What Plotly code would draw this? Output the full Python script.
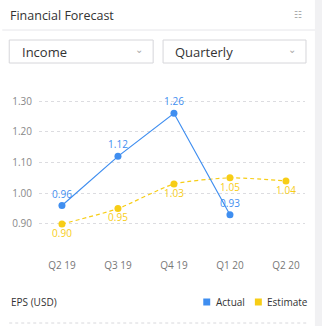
import plotly.graph_objects as go

quarters = ["Q2 19", "Q3 19", "Q4 19", "Q1 20", "Q2 20"]
actual_q = ["Q2 19", "Q3 19", "Q4 19", "Q1 20"]
actual_eps = [0.96, 1.12, 1.26, 0.93]
estimate_eps = [0.90, 0.95, 1.03, 1.05, 1.04]
y_ticks = [0.90, 1.00, 1.10, 1.20, 1.30]

BLUE = "#3f8ef0"
YELLOW = "#f7cd16"
FONT = "Open Sans"

fig = go.Figure()

fig.add_trace(go.Scatter(
    x=quarters, y=estimate_eps, mode="lines+markers+text",
    line=dict(color=YELLOW, width=1.2, dash="4px,3px", shape="spline", smoothing=0.6),
    marker=dict(color=YELLOW, size=7),
    text=[f"{v:.2f}" for v in estimate_eps], textposition="bottom center",
    textfont=dict(color=YELLOW, size=10, family=FONT),
    name="Estimate", hoverinfo="skip", cliponaxis=False,
))
fig.add_trace(go.Scatter(
    x=actual_q, y=actual_eps, mode="lines+markers+text",
    line=dict(color=BLUE, width=1.2),
    marker=dict(color=BLUE, size=7),
    text=[f"{v:.2f}" for v in actual_eps], textposition="top center",
    textfont=dict(color=BLUE, size=10, family=FONT),
    name="Actual", hoverinfo="skip", cliponaxis=False,
))

# convert pixel coordinates to paper coordinates for the chrome
L, R, T, B = 37, 17, 95, 76
PW, PH = 322 - L - R, 326 - T - B


def px(x):
    return (x - L) / PW


def py(y):
    return (326 - B - y) / PH


shapes = [
    # scrollbar strip on the right
    dict(type="rect", xref="paper", yref="paper", x0=px(315), x1=px(330), y0=-1, y1=2,
         fillcolor="#f1f1f3", line=dict(width=0), layer="below"),
    # header separator
    dict(type="line", xref="paper", yref="paper", x0=px(0), x1=px(315),
         y0=py(30), y1=py(30), line=dict(color="#e6e6ea", width=1)),
    # footer dashed rule
    dict(type="line", xref="paper", yref="paper", x0=px(7), x1=px(308),
         y0=py(323), y1=py(323), line=dict(color="#d8d8dc", width=1, dash="dot")),
]

for x0, x1 in [(7, 152), (162, 306)]:
    shapes.append(dict(type="rect", xref="paper", yref="paper",
                       x0=px(x0), x1=px(x1), y0=py(63), y1=py(40),
                       line=dict(color="#d6d6da", width=1), fillcolor="white"))

# legend swatches
for xs, col in [(206, BLUE), (258, YELLOW)]:
    shapes.append(dict(type="rect", xref="paper", yref="paper",
                       x0=px(xs - 3.5), x1=px(xs + 3.5), y0=py(305.5), y1=py(298.5),
                       fillcolor=col, line=dict(width=0)))

annotations = [
    dict(text="Financial Forecast", x=px(6), y=py(15), xanchor="left", yanchor="middle",
         font=dict(size=12.5, color="#333", family=FONT)),
    dict(text="☷", x=px(298), y=py(14), xanchor="center", yanchor="middle",
         font=dict(size=9, color="#999", family=FONT)),
    dict(text="Income", x=px(18), y=py(52), xanchor="left", yanchor="middle",
         font=dict(size=13, color="#333", family=FONT)),
    dict(text="⌄", x=px(138), y=py(49), xanchor="center", yanchor="middle",
         font=dict(size=10, color="#aaa", family=FONT)),
    dict(text="Quarterly", x=px(172), y=py(52), xanchor="left", yanchor="middle",
         font=dict(size=13, color="#333", family=FONT)),
    dict(text="⌄", x=px(292), y=py(49), xanchor="center", yanchor="middle",
         font=dict(size=10, color="#aaa", family=FONT)),
    dict(text="EPS (USD)", x=px(7), y=py(302), xanchor="left", yanchor="middle",
         font=dict(size=10, color="#333", family=FONT)),
    dict(text="Actual", x=px(213), y=py(302), xanchor="left", yanchor="middle",
         font=dict(size=10, color="#333", family=FONT)),
    dict(text="Estimate", x=px(265), y=py(302), xanchor="left", yanchor="middle",
         font=dict(size=10, color="#333", family=FONT)),
]
for a in annotations:
    a.update(xref="paper", yref="paper", showarrow=False)

fig.update_layout(
    width=322, height=326,
    margin=dict(l=L, r=R, t=T, b=B),
    paper_bgcolor="white", plot_bgcolor="white",
    showlegend=False,
    shapes=shapes, annotations=annotations,
    font=dict(family=FONT),
    xaxis=dict(type="category", categoryorder="array", categoryarray=quarters,
               range=[-0.41, 4.34], showgrid=False, showline=False, zeroline=False,
               ticks="", tickfont=dict(size=10, color="#777", family=FONT),
               ticklabelstandoff=8),
    yaxis=dict(range=[0.8154, 1.3195], tickvals=y_ticks, tickformat=".2f",
               showgrid=True, gridcolor="#dcdce0", griddash="dot", gridwidth=1,
               zeroline=False, showline=False, ticks="",
               tickfont=dict(size=10, color="#888", family=FONT), ticklabelstandoff=6),
)

fig.write_html("out.html", config={"displayModeBar": False})
